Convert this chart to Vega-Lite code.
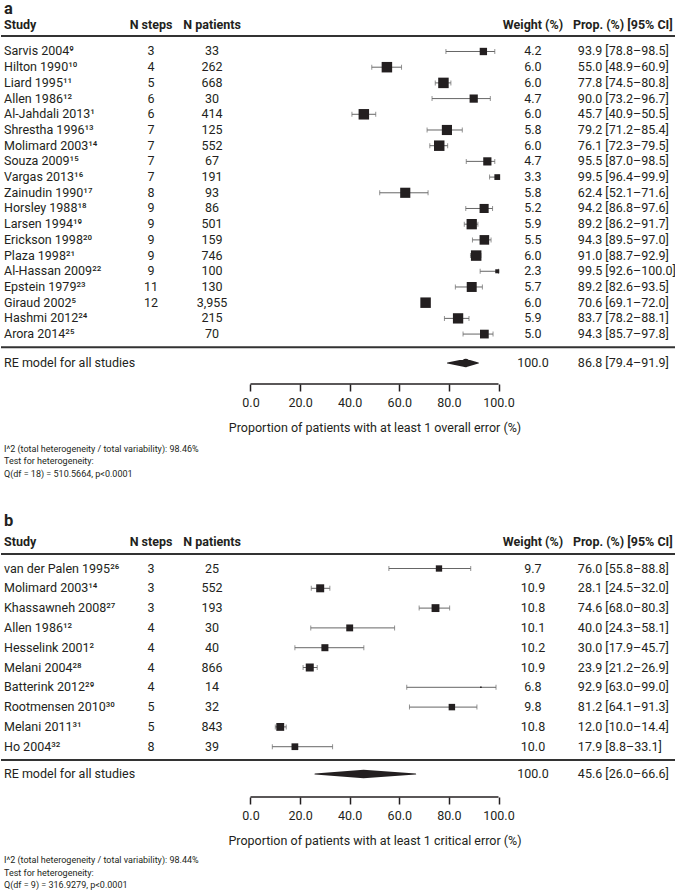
{
 "$schema": "https://vega.github.io/schema/vega-lite/v6.json",
 "background": "white",
 "padding": 0,
 "spacing": 121,
 "bounds": "flush",
 "resolve": {"scale": {"size": "independent"}},
 "config": {
  "view": {"stroke": null},
  "text": {"font": "Roboto", "fontSize": 12.5, "color": "#231f20"},
  "axisX": {"domain": false, "grid": false, "tickSize": 7, "tickWidth": 1.5, "tickColor": "#231f20", "labelFont": "Roboto", "labelFontSize": 12.5, "labelColor": "#231f20", "labelPadding": 5, "labelFlush": false, "labelOverlap": false, "titleFont": "Roboto", "titleFontSize": 12.5, "titleFontWeight": "normal", "titleColor": "#231f20", "titleX": 373.5, "titleY": 43, "titleBaseline": "middle", "titleAlign": "center"}
 },
 "vconcat": [
  {
   "width": 675, "height": 384,
   "data": {"values": [
    {"i":1,"study":"Sarvis 2004⁹","steps":"3","n":33,"weight":4.2,"est":93.9,"lo":78.8,"hi":98.5,"ci":"93.9 [78.8–98.5]"},
    {"i":2,"study":"Hilton 1990¹⁰","steps":"4","n":262,"weight":6.0,"est":55.0,"lo":48.9,"hi":60.9,"ci":"55.0 [48.9–60.9]"},
    {"i":3,"study":"Liard 1995¹¹","steps":"5","n":668,"weight":6.0,"est":77.8,"lo":74.5,"hi":80.8,"ci":"77.8 [74.5–80.8]"},
    {"i":4,"study":"Allen 1986¹²","steps":"6","n":30,"weight":4.7,"est":90.0,"lo":73.2,"hi":96.7,"ci":"90.0 [73.2–96.7]"},
    {"i":5,"study":"Al-Jahdali 2013¹","steps":"6","n":414,"weight":6.0,"est":45.7,"lo":40.9,"hi":50.5,"ci":"45.7 [40.9–50.5]"},
    {"i":6,"study":"Shrestha 1996¹³","steps":"7","n":125,"weight":5.8,"est":79.2,"lo":71.2,"hi":85.4,"ci":"79.2 [71.2–85.4]"},
    {"i":7,"study":"Molimard 2003¹⁴","steps":"7","n":552,"weight":6.0,"est":76.1,"lo":72.3,"hi":79.5,"ci":"76.1 [72.3–79.5]"},
    {"i":8,"study":"Souza 2009¹⁵","steps":"7","n":67,"weight":4.7,"est":95.5,"lo":87.0,"hi":98.5,"ci":"95.5 [87.0–98.5]"},
    {"i":9,"study":"Vargas 2013¹⁶","steps":"7","n":191,"weight":3.3,"est":99.5,"lo":96.4,"hi":99.9,"ci":"99.5 [96.4–99.9]"},
    {"i":10,"study":"Zainudin 1990¹⁷","steps":"8","n":93,"weight":5.8,"est":62.4,"lo":52.1,"hi":71.6,"ci":"62.4 [52.1–71.6]"},
    {"i":11,"study":"Horsley 1988¹⁸","steps":"9","n":86,"weight":5.2,"est":94.2,"lo":86.8,"hi":97.6,"ci":"94.2 [86.8–97.6]"},
    {"i":12,"study":"Larsen 1994¹⁹","steps":"9","n":501,"weight":5.9,"est":89.2,"lo":86.2,"hi":91.7,"ci":"89.2 [86.2–91.7]"},
    {"i":13,"study":"Erickson 1998²⁰","steps":"9","n":159,"weight":5.5,"est":94.3,"lo":89.5,"hi":97.0,"ci":"94.3 [89.5–97.0]"},
    {"i":14,"study":"Plaza 1998²¹","steps":"9","n":746,"weight":6.0,"est":91.0,"lo":88.7,"hi":92.9,"ci":"91.0 [88.7–92.9]"},
    {"i":15,"study":"Al-Hassan 2009²²","steps":"9","n":100,"weight":2.3,"est":99.5,"lo":92.6,"hi":100.0,"ci":"99.5 [92.6–100.0]"},
    {"i":16,"study":"Epstein 1979²³","steps":"11","n":130,"weight":5.7,"est":89.2,"lo":82.6,"hi":93.5,"ci":"89.2 [82.6–93.5]"},
    {"i":17,"study":"Giraud 2002⁵","steps":"12","n":3955,"weight":6.0,"est":70.6,"lo":69.1,"hi":72.0,"ci":"70.6 [69.1–72.0]"},
    {"i":18,"study":"Hashmi 2012²⁴","steps":"","n":215,"weight":5.9,"est":83.7,"lo":78.2,"hi":88.1,"ci":"83.7 [78.2–88.1]"},
    {"i":19,"study":"Arora 2014²⁵","steps":"","n":70,"weight":5.0,"est":94.3,"lo":85.7,"hi":97.8,"ci":"94.3 [85.7–97.8]"}
   ]},
   "layer": [
    {"mark": {"type": "rule", "color": "#666666", "strokeWidth": 1},
     "encoding": {
      "x": {"field": "lo", "type": "quantitative", "scale": {"domain": [-100.6, 171.57], "nice": false, "zero": false}, "axis": {"values": [0, 20, 40, 60, 80, 100], "format": ".1f", "title": "Proportion of patients with at least 1 overall error (%)"}},
      "x2": {"field": "hi"},
      "y": {"field": "i", "type": "quantitative", "scale": {"domain": [-2.28, 22.18], "nice": false, "zero": false, "reverse": true}, "axis": null}}},
    {"mark": {"type": "tick", "orient": "vertical", "size": 5, "thickness": 1, "color": "#666666"},
     "encoding": {
      "x": {"field": "lo", "type": "quantitative", "scale": {"domain": [-100.6, 171.57], "nice": false, "zero": false}},
      "y": {"field": "i", "type": "quantitative", "scale": {"domain": [-2.28, 22.18], "nice": false, "zero": false, "reverse": true}, "axis": null}}},
    {"mark": {"type": "tick", "orient": "vertical", "size": 5, "thickness": 1, "color": "#666666"},
     "encoding": {
      "x": {"field": "hi", "type": "quantitative", "scale": {"domain": [-100.6, 171.57], "nice": false, "zero": false}},
      "y": {"field": "i", "type": "quantitative", "scale": {"domain": [-2.28, 22.18], "nice": false, "zero": false, "reverse": true}, "axis": null}}},
    {"mark": {"type": "point", "shape": "square", "filled": true, "color": "#231f20", "opacity": 1},
     "encoding": {
      "x": {"field": "est", "type": "quantitative", "scale": {"domain": [-100.6, 171.57], "nice": false, "zero": false}},
      "y": {"field": "i", "type": "quantitative", "scale": {"domain": [-2.28, 22.18], "nice": false, "zero": false, "reverse": true}, "axis": null},
      "size": {"field": "weight", "type": "quantitative", "scale": {"type": "pow", "exponent": 2, "domain": [0, 6], "range": [0, 110]}, "legend": null}}},
    {"mark": {"type": "text", "align": "left", "baseline": "middle"},
     "encoding": {
      "x": {"datum": -99.4, "type": "quantitative", "scale": {"domain": [-100.6, 171.57], "nice": false, "zero": false}},
      "y": {"field": "i", "type": "quantitative", "scale": {"domain": [-2.28, 22.18], "nice": false, "zero": false, "reverse": true}, "axis": null},
      "text": {"field": "study", "type": "nominal"}}},
    {"mark": {"type": "text", "align": "center", "baseline": "middle"},
     "encoding": {
      "x": {"datum": -40.1, "type": "quantitative", "scale": {"domain": [-100.6, 171.57], "nice": false, "zero": false}},
      "y": {"field": "i", "type": "quantitative", "scale": {"domain": [-2.28, 22.18], "nice": false, "zero": false, "reverse": true}, "axis": null},
      "text": {"field": "steps", "type": "nominal"}}},
    {"mark": {"type": "text", "align": "center", "baseline": "middle"},
     "encoding": {
      "x": {"datum": -15.5, "type": "quantitative", "scale": {"domain": [-100.6, 171.57], "nice": false, "zero": false}},
      "y": {"field": "i", "type": "quantitative", "scale": {"domain": [-2.28, 22.18], "nice": false, "zero": false, "reverse": true}, "axis": null},
      "text": {"field": "n", "type": "quantitative", "format": ","}}},
    {"mark": {"type": "text", "align": "center", "baseline": "middle"},
     "encoding": {
      "x": {"datum": 113.9, "type": "quantitative", "scale": {"domain": [-100.6, 171.57], "nice": false, "zero": false}},
      "y": {"field": "i", "type": "quantitative", "scale": {"domain": [-2.28, 22.18], "nice": false, "zero": false, "reverse": true}, "axis": null},
      "text": {"field": "weight", "type": "quantitative", "format": ".1f"}}},
    {"mark": {"type": "text", "align": "left", "baseline": "middle"},
     "encoding": {
      "x": {"datum": 132, "type": "quantitative", "scale": {"domain": [-100.6, 171.57], "nice": false, "zero": false}},
      "y": {"field": "i", "type": "quantitative", "scale": {"domain": [-2.28, 22.18], "nice": false, "zero": false, "reverse": true}, "axis": null},
      "text": {"field": "ci", "type": "nominal"}}},
    {"data": {"values": [{}]},
     "mark": {"type": "rule", "color": "#333333", "strokeWidth": 2},
     "encoding": {
      "x": {"datum": -100.6, "type": "quantitative", "scale": {"domain": [-100.6, 171.57], "nice": false, "zero": false}},
      "x2": {"datum": 171.57},
      "y": {"datum": 0.013, "type": "quantitative", "scale": {"domain": [-2.28, 22.18], "nice": false, "zero": false, "reverse": true}, "axis": null}}},
    {"data": {"values": [{}]},
     "mark": {"type": "rule", "color": "#333333", "strokeWidth": 2},
     "encoding": {
      "x": {"datum": -100.6, "type": "quantitative", "scale": {"domain": [-100.6, 171.57], "nice": false, "zero": false}},
      "x2": {"datum": 171.57},
      "y": {"datum": 19.84, "type": "quantitative", "scale": {"domain": [-2.28, 22.18], "nice": false, "zero": false, "reverse": true}, "axis": null}}},
    {"data": {"values": [{}]},
     "mark": {"type": "rule", "color": "#231f20", "strokeWidth": 1.5},
     "encoding": {
      "x": {"datum": 0, "type": "quantitative", "scale": {"domain": [-100.6, 171.57], "nice": false, "zero": false}},
      "x2": {"datum": 100},
      "y": {"datum": 22.18, "type": "quantitative", "scale": {"domain": [-2.28, 22.18], "nice": false, "zero": false, "reverse": true}, "axis": null}}},
    {"data": {"values": [{}]},
     "mark": {"type": "text", "align": "left", "baseline": "middle", "fontWeight": "bold", "text": "Study"},
     "encoding": {
      "x": {"datum": -99.4, "type": "quantitative", "scale": {"domain": [-100.6, 171.57], "nice": false, "zero": false}},
      "y": {"datum": -0.688, "type": "quantitative", "scale": {"domain": [-2.28, 22.18], "nice": false, "zero": false, "reverse": true}, "axis": null}}},
    {"data": {"values": [{}]},
     "mark": {"type": "text", "align": "center", "baseline": "middle", "fontWeight": "bold", "text": "N steps"},
     "encoding": {
      "x": {"datum": -40.1, "type": "quantitative", "scale": {"domain": [-100.6, 171.57], "nice": false, "zero": false}},
      "y": {"datum": -0.688, "type": "quantitative", "scale": {"domain": [-2.28, 22.18], "nice": false, "zero": false, "reverse": true}, "axis": null}}},
    {"data": {"values": [{}]},
     "mark": {"type": "text", "align": "center", "baseline": "middle", "fontWeight": "bold", "text": "N patients"},
     "encoding": {
      "x": {"datum": -15.5, "type": "quantitative", "scale": {"domain": [-100.6, 171.57], "nice": false, "zero": false}},
      "y": {"datum": -0.688, "type": "quantitative", "scale": {"domain": [-2.28, 22.18], "nice": false, "zero": false, "reverse": true}, "axis": null}}},
    {"data": {"values": [{}]},
     "mark": {"type": "text", "align": "center", "baseline": "middle", "fontWeight": "bold", "text": "Weight (%)"},
     "encoding": {
      "x": {"datum": 113.9, "type": "quantitative", "scale": {"domain": [-100.6, 171.57], "nice": false, "zero": false}},
      "y": {"datum": -0.688, "type": "quantitative", "scale": {"domain": [-2.28, 22.18], "nice": false, "zero": false, "reverse": true}, "axis": null}}},
    {"data": {"values": [{}]},
     "mark": {"type": "text", "align": "left", "baseline": "middle", "fontWeight": "bold", "text": "Prop. (%) [95% CI]"},
     "encoding": {
      "x": {"datum": 130.0, "type": "quantitative", "scale": {"domain": [-100.6, 171.57], "nice": false, "zero": false}},
      "y": {"datum": -0.688, "type": "quantitative", "scale": {"domain": [-2.28, 22.18], "nice": false, "zero": false, "reverse": true}, "axis": null}}},
    {"data": {"values": [{}]},
     "mark": {"type": "text", "align": "left", "baseline": "top", "fontWeight": "bold", "fontSize": 16.5, "text": "a"},
     "encoding": {
      "x": {"datum": -99.4, "type": "quantitative", "scale": {"domain": [-100.6, 171.57], "nice": false, "zero": false}},
      "y": {"datum": -2.248, "type": "quantitative", "scale": {"domain": [-2.28, 22.18], "nice": false, "zero": false, "reverse": true}, "axis": null}}},
    {"data": {"values": [{"label": "RE model for all studies", "weight": 100, "ci": "86.8 [79.4–91.9]"}]},
     "mark": {"type": "text", "align": "left", "baseline": "middle"},
     "encoding": {
      "x": {"datum": -99.4, "type": "quantitative", "scale": {"domain": [-100.6, 171.57], "nice": false, "zero": false}},
      "y": {"datum": 20.84, "type": "quantitative", "scale": {"domain": [-2.28, 22.18], "nice": false, "zero": false, "reverse": true}, "axis": null},
      "text": {"field": "label", "type": "nominal"}}},
    {"data": {"values": [{"label": "RE model for all studies", "weight": 100, "ci": "86.8 [79.4–91.9]"}]},
     "mark": {"type": "text", "align": "center", "baseline": "middle"},
     "encoding": {
      "x": {"datum": 113.9, "type": "quantitative", "scale": {"domain": [-100.6, 171.57], "nice": false, "zero": false}},
      "y": {"datum": 20.84, "type": "quantitative", "scale": {"domain": [-2.28, 22.18], "nice": false, "zero": false, "reverse": true}, "axis": null},
      "text": {"field": "weight", "type": "quantitative", "format": ".1f"}}},
    {"data": {"values": [{"label": "RE model for all studies", "weight": 100, "ci": "86.8 [79.4–91.9]"}]},
     "mark": {"type": "text", "align": "left", "baseline": "middle"},
     "encoding": {
      "x": {"datum": 132, "type": "quantitative", "scale": {"domain": [-100.6, 171.57], "nice": false, "zero": false}},
      "y": {"datum": 20.84, "type": "quantitative", "scale": {"domain": [-2.28, 22.18], "nice": false, "zero": false, "reverse": true}, "axis": null},
      "text": {"field": "ci", "type": "nominal"}}},
    {"data": {"values": [{"est": 86.8, "lo": 79.4, "hi": 91.9}]},
     "transform": [{"fold": ["lo", "est", "hi"], "as": ["pt", "val"]}],
     "mark": {"type": "trail", "color": "#231f20"},
     "encoding": {
      "x": {"field": "val", "type": "quantitative", "scale": {"domain": [-100.6, 171.57], "nice": false, "zero": false}},
      "y": {"datum": 20.84, "type": "quantitative", "scale": {"domain": [-2.28, 22.18], "nice": false, "zero": false, "reverse": true}, "axis": null},
      "order": {"field": "val", "type": "quantitative"},
      "size": {"condition": {"test": "datum.pt === 'est'", "value": 8.6}, "value": 0}}},
    {"data": {"values": [{}]},
     "mark": {"type": "text", "align": "left", "baseline": "top", "fontSize": 9, "lineHeight": 12.5, "text": ["I^2 (total heterogeneity / total variability): 98.46%", "Test for heterogeneity:", "Q(df = 18) = 510.5664, p<0.0001"]},
     "encoding": {
      "x": {"datum": -99.4, "type": "quantitative", "scale": {"domain": [-100.6, 171.57], "nice": false, "zero": false}},
      "y": {"datum": 26.06, "type": "quantitative", "scale": {"domain": [-2.28, 22.18], "nice": false, "zero": false, "reverse": true}, "axis": null}}}
   ]
  },
  {
   "width": 675, "height": 292,
   "data": {"values": [
    {"i":1,"study":"van der Palen 1995²⁶","steps":"3","n":25,"weight":9.7,"est":76.0,"lo":55.8,"hi":88.8,"ci":"76.0 [55.8–88.8]"},
    {"i":2,"study":"Molimard 2003¹⁴","steps":"3","n":552,"weight":10.9,"est":28.1,"lo":24.5,"hi":32.0,"ci":"28.1 [24.5–32.0]"},
    {"i":3,"study":"Khassawneh 2008²⁷","steps":"3","n":193,"weight":10.8,"est":74.6,"lo":68.0,"hi":80.3,"ci":"74.6 [68.0–80.3]"},
    {"i":4,"study":"Allen 1986¹²","steps":"4","n":30,"weight":10.1,"est":40.0,"lo":24.3,"hi":58.1,"ci":"40.0 [24.3–58.1]"},
    {"i":5,"study":"Hesselink 2001²","steps":"4","n":40,"weight":10.2,"est":30.0,"lo":17.9,"hi":45.7,"ci":"30.0 [17.9–45.7]"},
    {"i":6,"study":"Melani 2004²⁸","steps":"4","n":866,"weight":10.9,"est":23.9,"lo":21.2,"hi":26.9,"ci":"23.9 [21.2–26.9]"},
    {"i":7,"study":"Batterink 2012²⁹","steps":"4","n":14,"weight":6.8,"est":92.9,"lo":63.0,"hi":99.0,"ci":"92.9 [63.0–99.0]"},
    {"i":8,"study":"Rootmensen 2010³⁰","steps":"5","n":32,"weight":9.8,"est":81.2,"lo":64.1,"hi":91.3,"ci":"81.2 [64.1–91.3]"},
    {"i":9,"study":"Melani 2011³¹","steps":"5","n":843,"weight":10.8,"est":12.0,"lo":10.0,"hi":14.4,"ci":"12.0 [10.0–14.4]"},
    {"i":10,"study":"Ho 2004³²","steps":"8","n":39,"weight":10.0,"est":17.9,"lo":8.8,"hi":33.1,"ci":"17.9 [8.8–33.1]"}
   ]},
   "layer": [
    {"mark": {"type": "rule", "color": "#666666", "strokeWidth": 1},
     "encoding": {
      "x": {"field": "lo", "type": "quantitative", "scale": {"domain": [-100.6, 171.57], "nice": false, "zero": false}, "axis": {"values": [0, 20, 40, 60, 80, 100], "format": ".1f", "title": "Proportion of patients with at least 1 critical error (%)"}},
      "x2": {"field": "hi"},
      "y": {"field": "i", "type": "quantitative", "scale": {"domain": [-2.207, 12.54], "nice": false, "zero": false, "reverse": true}, "axis": null}}},
    {"mark": {"type": "tick", "orient": "vertical", "size": 5, "thickness": 1, "color": "#666666"},
     "encoding": {
      "x": {"field": "lo", "type": "quantitative", "scale": {"domain": [-100.6, 171.57], "nice": false, "zero": false}},
      "y": {"field": "i", "type": "quantitative", "scale": {"domain": [-2.207, 12.54], "nice": false, "zero": false, "reverse": true}, "axis": null}}},
    {"mark": {"type": "tick", "orient": "vertical", "size": 5, "thickness": 1, "color": "#666666"},
     "encoding": {
      "x": {"field": "hi", "type": "quantitative", "scale": {"domain": [-100.6, 171.57], "nice": false, "zero": false}},
      "y": {"field": "i", "type": "quantitative", "scale": {"domain": [-2.207, 12.54], "nice": false, "zero": false, "reverse": true}, "axis": null}}},
    {"mark": {"type": "point", "shape": "square", "filled": true, "color": "#231f20", "opacity": 1},
     "encoding": {
      "x": {"field": "est", "type": "quantitative", "scale": {"domain": [-100.6, 171.57], "nice": false, "zero": false}},
      "y": {"field": "i", "type": "quantitative", "scale": {"domain": [-2.207, 12.54], "nice": false, "zero": false, "reverse": true}, "axis": null},
      "size": {"field": "weight", "type": "quantitative", "scale": {"type": "pow", "exponent": 3, "domain": [6.5, 10.9], "range": [0, 64], "zero": false}, "legend": null}}},
    {"mark": {"type": "text", "align": "left", "baseline": "middle"},
     "encoding": {
      "x": {"datum": -99.4, "type": "quantitative", "scale": {"domain": [-100.6, 171.57], "nice": false, "zero": false}},
      "y": {"field": "i", "type": "quantitative", "scale": {"domain": [-2.207, 12.54], "nice": false, "zero": false, "reverse": true}, "axis": null},
      "text": {"field": "study", "type": "nominal"}}},
    {"mark": {"type": "text", "align": "center", "baseline": "middle"},
     "encoding": {
      "x": {"datum": -40.1, "type": "quantitative", "scale": {"domain": [-100.6, 171.57], "nice": false, "zero": false}},
      "y": {"field": "i", "type": "quantitative", "scale": {"domain": [-2.207, 12.54], "nice": false, "zero": false, "reverse": true}, "axis": null},
      "text": {"field": "steps", "type": "nominal"}}},
    {"mark": {"type": "text", "align": "center", "baseline": "middle"},
     "encoding": {
      "x": {"datum": -15.5, "type": "quantitative", "scale": {"domain": [-100.6, 171.57], "nice": false, "zero": false}},
      "y": {"field": "i", "type": "quantitative", "scale": {"domain": [-2.207, 12.54], "nice": false, "zero": false, "reverse": true}, "axis": null},
      "text": {"field": "n", "type": "quantitative", "format": ","}}},
    {"mark": {"type": "text", "align": "center", "baseline": "middle"},
     "encoding": {
      "x": {"datum": 113.9, "type": "quantitative", "scale": {"domain": [-100.6, 171.57], "nice": false, "zero": false}},
      "y": {"field": "i", "type": "quantitative", "scale": {"domain": [-2.207, 12.54], "nice": false, "zero": false, "reverse": true}, "axis": null},
      "text": {"field": "weight", "type": "quantitative", "format": ".1f"}}},
    {"mark": {"type": "text", "align": "left", "baseline": "middle"},
     "encoding": {
      "x": {"datum": 132, "type": "quantitative", "scale": {"domain": [-100.6, 171.57], "nice": false, "zero": false}},
      "y": {"field": "i", "type": "quantitative", "scale": {"domain": [-2.207, 12.54], "nice": false, "zero": false, "reverse": true}, "axis": null},
      "text": {"field": "ci", "type": "nominal"}}},
    {"data": {"values": [{}]},
     "mark": {"type": "rule", "color": "#333333", "strokeWidth": 2},
     "encoding": {
      "x": {"datum": -100.6, "type": "quantitative", "scale": {"domain": [-100.6, 171.57], "nice": false, "zero": false}},
      "x2": {"datum": 171.57},
      "y": {"datum": 0.268, "type": "quantitative", "scale": {"domain": [-2.207, 12.54], "nice": false, "zero": false, "reverse": true}, "axis": null}}},
    {"data": {"values": [{}]},
     "mark": {"type": "rule", "color": "#333333", "strokeWidth": 2},
     "encoding": {
      "x": {"datum": -100.6, "type": "quantitative", "scale": {"domain": [-100.6, 171.57], "nice": false, "zero": false}},
      "x2": {"datum": 171.57},
      "y": {"datum": 10.67, "type": "quantitative", "scale": {"domain": [-2.207, 12.54], "nice": false, "zero": false, "reverse": true}, "axis": null}}},
    {"data": {"values": [{}]},
     "mark": {"type": "rule", "color": "#231f20", "strokeWidth": 1.5},
     "encoding": {
      "x": {"datum": 0, "type": "quantitative", "scale": {"domain": [-100.6, 171.57], "nice": false, "zero": false}},
      "x2": {"datum": 100},
      "y": {"datum": 12.54, "type": "quantitative", "scale": {"domain": [-2.207, 12.54], "nice": false, "zero": false, "reverse": true}, "axis": null}}},
    {"data": {"values": [{}]},
     "mark": {"type": "text", "align": "left", "baseline": "middle", "fontWeight": "bold", "text": "Study"},
     "encoding": {
      "x": {"datum": -99.4, "type": "quantitative", "scale": {"domain": [-100.6, 171.57], "nice": false, "zero": false}},
      "y": {"datum": -0.323, "type": "quantitative", "scale": {"domain": [-2.207, 12.54], "nice": false, "zero": false, "reverse": true}, "axis": null}}},
    {"data": {"values": [{}]},
     "mark": {"type": "text", "align": "center", "baseline": "middle", "fontWeight": "bold", "text": "N steps"},
     "encoding": {
      "x": {"datum": -40.1, "type": "quantitative", "scale": {"domain": [-100.6, 171.57], "nice": false, "zero": false}},
      "y": {"datum": -0.323, "type": "quantitative", "scale": {"domain": [-2.207, 12.54], "nice": false, "zero": false, "reverse": true}, "axis": null}}},
    {"data": {"values": [{}]},
     "mark": {"type": "text", "align": "center", "baseline": "middle", "fontWeight": "bold", "text": "N patients"},
     "encoding": {
      "x": {"datum": -15.5, "type": "quantitative", "scale": {"domain": [-100.6, 171.57], "nice": false, "zero": false}},
      "y": {"datum": -0.323, "type": "quantitative", "scale": {"domain": [-2.207, 12.54], "nice": false, "zero": false, "reverse": true}, "axis": null}}},
    {"data": {"values": [{}]},
     "mark": {"type": "text", "align": "center", "baseline": "middle", "fontWeight": "bold", "text": "Weight (%)"},
     "encoding": {
      "x": {"datum": 113.9, "type": "quantitative", "scale": {"domain": [-100.6, 171.57], "nice": false, "zero": false}},
      "y": {"datum": -0.323, "type": "quantitative", "scale": {"domain": [-2.207, 12.54], "nice": false, "zero": false, "reverse": true}, "axis": null}}},
    {"data": {"values": [{}]},
     "mark": {"type": "text", "align": "left", "baseline": "middle", "fontWeight": "bold", "text": "Prop. (%) [95% CI]"},
     "encoding": {
      "x": {"datum": 130.0, "type": "quantitative", "scale": {"domain": [-100.6, 171.57], "nice": false, "zero": false}},
      "y": {"datum": -0.323, "type": "quantitative", "scale": {"domain": [-2.207, 12.54], "nice": false, "zero": false, "reverse": true}, "axis": null}}},
    {"data": {"values": [{}]},
     "mark": {"type": "text", "align": "left", "baseline": "top", "fontWeight": "bold", "fontSize": 16.5, "text": "b"},
     "encoding": {
      "x": {"datum": -99.4, "type": "quantitative", "scale": {"domain": [-100.6, 171.57], "nice": false, "zero": false}},
      "y": {"datum": -1.828, "type": "quantitative", "scale": {"domain": [-2.207, 12.54], "nice": false, "zero": false, "reverse": true}, "axis": null}}},
    {"data": {"values": [{"label": "RE model for all studies", "weight": 100, "ci": "45.6 [26.0–66.6]"}]},
     "mark": {"type": "text", "align": "left", "baseline": "middle"},
     "encoding": {
      "x": {"datum": -99.4, "type": "quantitative", "scale": {"domain": [-100.6, 171.57], "nice": false, "zero": false}},
      "y": {"datum": 11.38, "type": "quantitative", "scale": {"domain": [-2.207, 12.54], "nice": false, "zero": false, "reverse": true}, "axis": null},
      "text": {"field": "label", "type": "nominal"}}},
    {"data": {"values": [{"label": "RE model for all studies", "weight": 100, "ci": "45.6 [26.0–66.6]"}]},
     "mark": {"type": "text", "align": "center", "baseline": "middle"},
     "encoding": {
      "x": {"datum": 113.9, "type": "quantitative", "scale": {"domain": [-100.6, 171.57], "nice": false, "zero": false}},
      "y": {"datum": 11.38, "type": "quantitative", "scale": {"domain": [-2.207, 12.54], "nice": false, "zero": false, "reverse": true}, "axis": null},
      "text": {"field": "weight", "type": "quantitative", "format": ".1f"}}},
    {"data": {"values": [{"label": "RE model for all studies", "weight": 100, "ci": "45.6 [26.0–66.6]"}]},
     "mark": {"type": "text", "align": "left", "baseline": "middle"},
     "encoding": {
      "x": {"datum": 132, "type": "quantitative", "scale": {"domain": [-100.6, 171.57], "nice": false, "zero": false}},
      "y": {"datum": 11.38, "type": "quantitative", "scale": {"domain": [-2.207, 12.54], "nice": false, "zero": false, "reverse": true}, "axis": null},
      "text": {"field": "ci", "type": "nominal"}}},
    {"data": {"values": [{"est": 45.6, "lo": 26.0, "hi": 66.6}]},
     "transform": [{"fold": ["lo", "est", "hi"], "as": ["pt", "val"]}],
     "mark": {"type": "trail", "color": "#231f20"},
     "encoding": {
      "x": {"field": "val", "type": "quantitative", "scale": {"domain": [-100.6, 171.57], "nice": false, "zero": false}},
      "y": {"datum": 11.38, "type": "quantitative", "scale": {"domain": [-2.207, 12.54], "nice": false, "zero": false, "reverse": true}, "axis": null},
      "order": {"field": "val", "type": "quantitative"},
      "size": {"condition": {"test": "datum.pt === 'est'", "value": 8.6}, "value": 0}}},
    {"data": {"values": [{}]},
     "mark": {"type": "text", "align": "left", "baseline": "top", "fontSize": 9, "lineHeight": 12.5, "text": ["I^2 (total heterogeneity / total variability): 98.44%", "Test for heterogeneity:", "Q(df = 9) = 316.9279, p<0.0001"]},
     "encoding": {
      "x": {"datum": -99.4, "type": "quantitative", "scale": {"domain": [-100.6, 171.57], "nice": false, "zero": false}},
      "y": {"datum": 15.52, "type": "quantitative", "scale": {"domain": [-2.207, 12.54], "nice": false, "zero": false, "reverse": true}, "axis": null}}}
   ]
  }
 ]
}
